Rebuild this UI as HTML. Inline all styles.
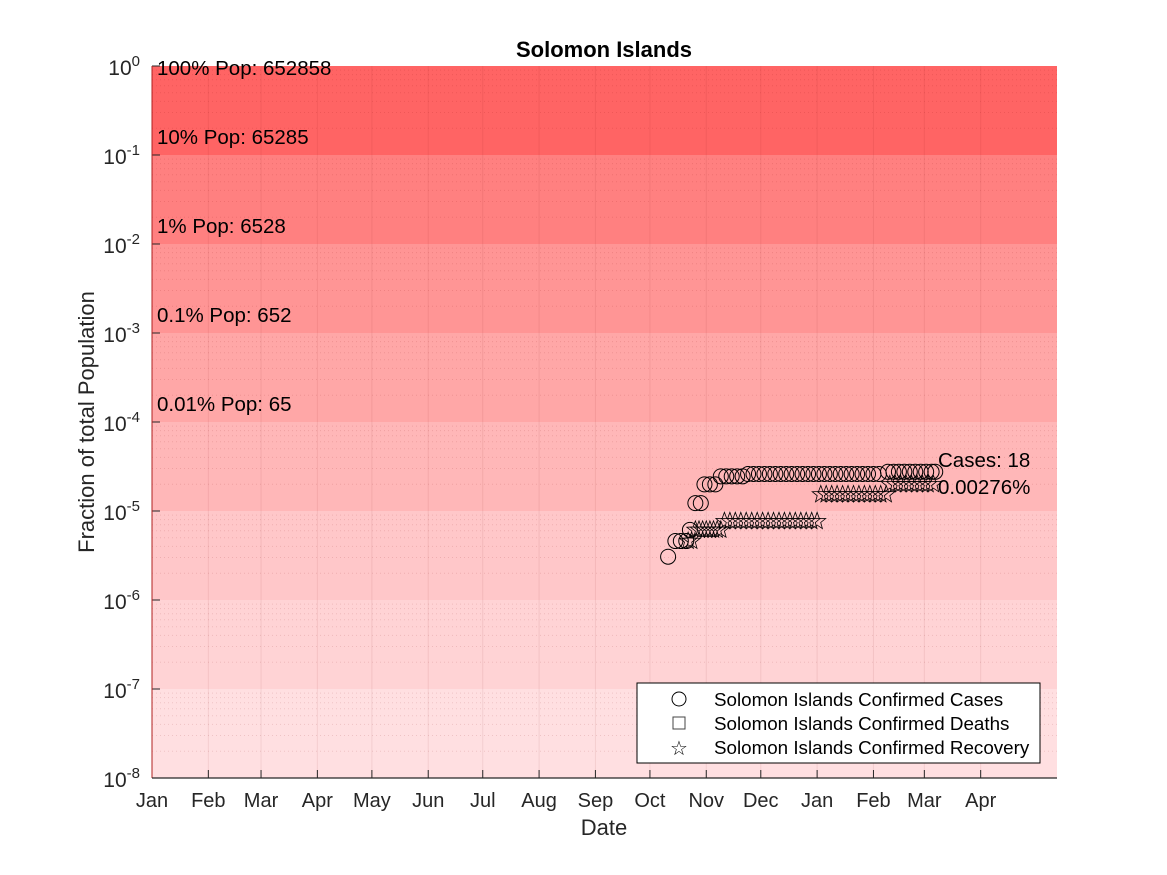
<!DOCTYPE html>
<html><head><meta charset="utf-8"><style>
html,body{margin:0;padding:0;background:#fff;}
svg{display:block;font-family:"Liberation Sans",Arial,sans-serif;}
</style></head><body>
<svg id="chart" width="1167" height="875" viewBox="0 0 1167 875">
<g id="bands"></g><g id="grid"></g><g id="bandlabels"></g><g id="marks"></g><g id="axes"></g>
<text x="604" y="57" text-anchor="middle" font-size="22" font-weight="bold" fill="#000">Solomon Islands</text>
<text x="604" y="835" text-anchor="middle" font-size="22" fill="#262626">Date</text>
<text transform="translate(94,422) rotate(-90)" text-anchor="middle" font-size="22" fill="#262626">Fraction of total Population</text>
<text x="938" y="467" font-size="20.5" fill="#000">Cases: 18</text>
<text x="938" y="494" font-size="20.5" fill="#000">0.00276%</text>
<g>
<rect x="637" y="683" width="403" height="80" fill="#fff" stroke="#000" stroke-width="1"/>
<circle cx="679" cy="699" r="7" fill="none" stroke="#000"/>
<text x="714" y="706" font-size="18.8">Solomon Islands Confirmed Cases</text>
<rect x="673" y="717" width="12" height="12" fill="none" stroke="#444"/>
<text x="714" y="730" font-size="18.8">Solomon Islands Confirmed Deaths</text>
<text x="679" y="755" font-size="20" text-anchor="middle">☆</text>
<text x="714" y="754" font-size="18.8">Solomon Islands Confirmed Recovery</text>
</g>
</svg>
<script>
const population = 652858;
const monthLabels = ["Jan","Feb","Mar","Apr","May","Jun","Jul","Aug","Sep","Oct","Nov","Dec","Jan","Feb","Mar","Apr"];
const monthDays = [0,31,60,91,121,152,182,213,244,274,305,335,366,397,425,456];
const yExponents = [0,-1,-2,-3,-4,-5,-6,-7,-8];
const bandLabels = ["100% Pop: 652858","10% Pop: 65285","1% Pop: 6528","0.1% Pop: 652","0.01% Pop: 65"];
const bandColors = ["#ff6464","#ff8080","#ff9595","#ffa7a7","#ffb7b8","#ffc7c9","#ffd3d5","#ffdfe1"];
const caseDays = [284,288,291,294,296,299,302,304,307,310,313,316,319,322,325,328,331,334,337,340,343,346,349,352,355,358,361,364,367,370,373,376,379,382,385,388,391,394,397,400,405,408,411,414,417,420,423,426,429,431];
const caseValues = [2,3,3,3,4,8,8,13,13,13,16,16,16,16,16,17,17,17,17,17,17,17,17,17,17,17,17,17,17,17,17,17,17,17,17,17,17,17,17,17,18,18,18,18,18,18,18,18,18,18];
const recDays = [295,297,299,301,303,305,307,309,311,313,315,318,321,324,327,330,333,336,339,342,345,348,351,354,357,360,363,366,368,371,374,377,380,383,386,389,392,395,398,401,404,406,409,412,415,418,421,424,427,430];
const recValues = [3,3,4,4,4,4,4,4,4,4,5,5,5,5,5,5,5,5,5,5,5,5,5,5,5,5,5,5,10,10,10,10,10,10,10,10,10,10,10,10,10,13,13,13,13,13,13,13,13,13];

const NS="http://www.w3.org/2000/svg";
const X0=152,X1=1057,Y0=66,Y1=778,DAYMAX=498;
const xS=d=>X0+d*(X1-X0)/DAYMAX;
const yS=v=>Y0+(-Math.log10(v))*(Y1-Y0)/8;
function mk(tag,attrs,parent){const e=document.createElementNS(NS,tag);for(const k in attrs)e.setAttribute(k,attrs[k]);parent.appendChild(e);return e;}
const bands=document.getElementById('bands'),grid=document.getElementById('grid'),bl=document.getElementById('bandlabels'),marks=document.getElementById('marks'),axes=document.getElementById('axes');
bandColors.forEach((c,i)=>{
  const r=mk('rect',{x:X0,y:yS(Math.pow(10,-i)),width:X1-X0,height:yS(Math.pow(10,-i-1))-yS(Math.pow(10,-i)),fill:c},bands);
  
  
});
for(let e=0;e<8;e++)for(let m=2;m<10;m++){
  const y=yS(m*Math.pow(10,-e-1));
  mk('line',{x1:X0,x2:X1,y1:y,y2:y,stroke:'rgba(120,0,0,0.12)','stroke-dasharray':'1,3'},grid);
}
monthDays.forEach((d,i)=>{
  const x=xS(d);
  mk('line',{x1:x,x2:x,y1:Y0,y2:Y1,stroke:'rgba(120,0,0,0.08)'},grid);
  mk('line',{x1:x,x2:x,y1:Y1,y2:Y1-8,stroke:'#262626'},axes);
  const t=mk('text',{x:x,y:807,'text-anchor':'middle','font-size':20,fill:'#262626'},axes);
  t.textContent=monthLabels[i];
  
  
});
yExponents.forEach(e=>{
  const y=yS(Math.pow(10,e));
  mk('line',{x1:X0,x2:X0+8,y1:y,y2:y,stroke:'#262626'},axes);
  const t=mk('text',{x:140,y:y+9,'text-anchor':'end','font-size':21,fill:'#262626'},axes);
  
  
  t.appendChild(document.createTextNode('10'));
  const s=mk('tspan',{dy:-9,'font-size':15},t);s.textContent=String(e);
});
bandLabels.forEach((s,i)=>{
  const t=mk('text',{x:157,y:yS(Math.pow(10,-i))+(i===0?9:-11),'font-size':20.5,fill:'#000'},bl);
  t.textContent=s;
  
  
});
caseDays.forEach((d,i)=>{
  const c=mk('circle',{cx:xS(d),cy:yS(caseValues[i]/population),r:7.5,fill:'none',stroke:'#000','stroke-width':1},marks);
  
  
});
function starPts(cx,cy,R){const r=R*0.42;let p=[];for(let k=0;k<10;k++){const a=-Math.PI/2+k*Math.PI/5;const rr=k%2?r:R;p.push((cx+rr*Math.cos(a)).toFixed(1)+','+(cy+rr*Math.sin(a)).toFixed(1));}return p.join(' ');}
recDays.forEach((d,i)=>{
  const s=mk('polygon',{points:starPts(xS(d),yS(recValues[i]/population),9),fill:'none',stroke:'#000','stroke-width':0.8},marks);
  
  
});
mk('line',{x1:X0,x2:X0,y1:Y0,y2:Y1,stroke:'#b02020','stroke-width':1},axes);
mk('line',{x1:X0,x2:X1,y1:Y1,y2:Y1,stroke:'#262626','stroke-width':1.2},axes);
</script>
</body></html>
